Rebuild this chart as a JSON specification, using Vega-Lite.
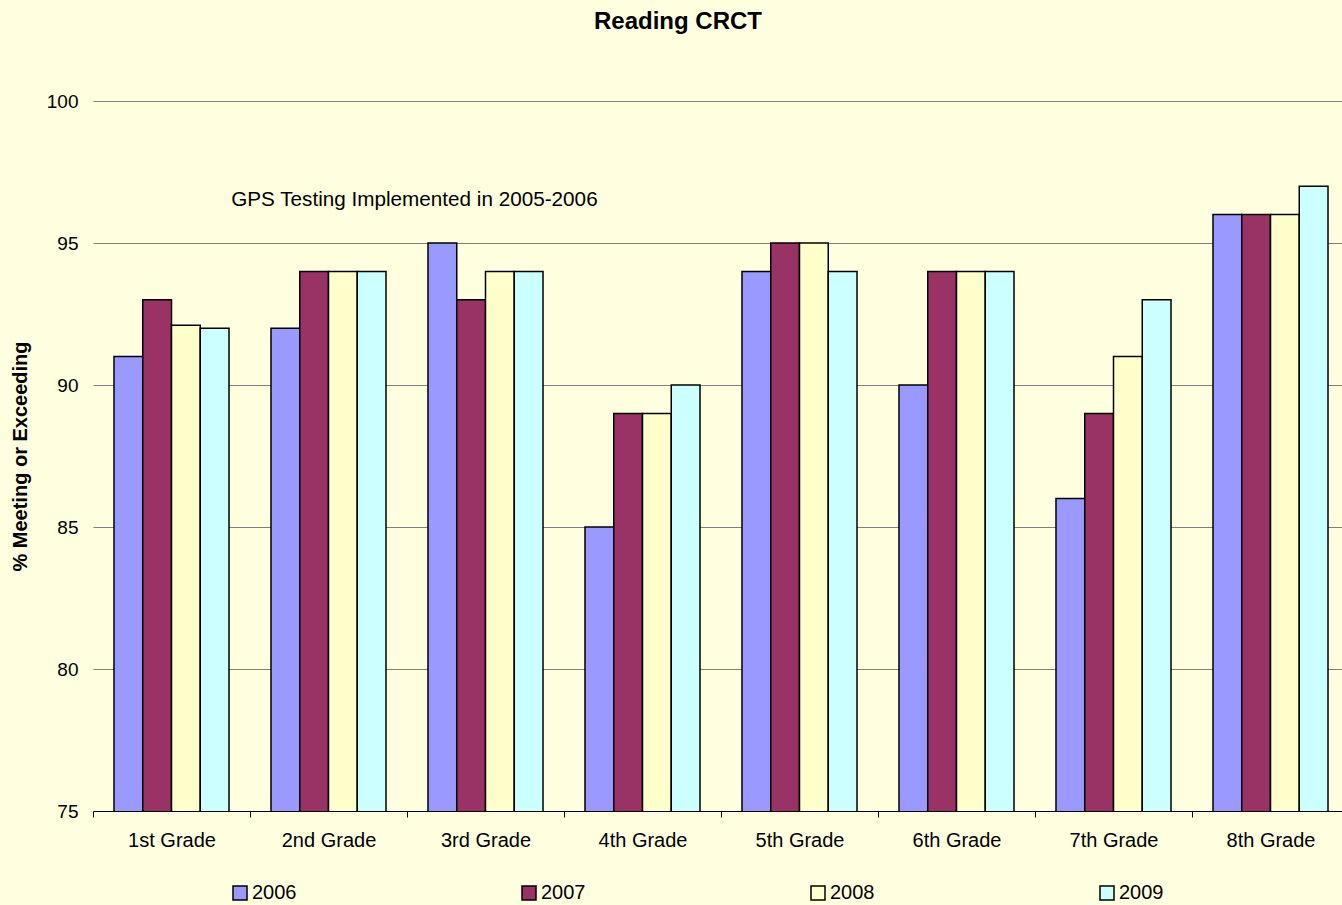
{
  "$schema": "https://vega.github.io/schema/vega-lite/v6.json",
  "autosize": "none",
  "width": 1256,
  "height": 710,
  "padding": {"left": 93, "top": 101, "right": 0, "bottom": 94},
  "background": "#FFFFE0",
  "title": {
    "text": "Reading CRCT",
    "fontSize": 24,
    "fontWeight": "bold",
    "font": "Liberation Sans",
    "color": "#000000",
    "anchor": "middle",
    "dx": -43,
    "offset": 58
  },
  "config": {
    "view": {"stroke": null},
    "font": "Liberation Sans"
  },
  "layer": [
    {
      "data": {
        "values": [
          {"grade": "1st Grade", "year": "2006", "value": 91},
          {"grade": "1st Grade", "year": "2007", "value": 93},
          {"grade": "1st Grade", "year": "2008", "value": 92.1},
          {"grade": "1st Grade", "year": "2009", "value": 92},
          {"grade": "2nd Grade", "year": "2006", "value": 92},
          {"grade": "2nd Grade", "year": "2007", "value": 94},
          {"grade": "2nd Grade", "year": "2008", "value": 94},
          {"grade": "2nd Grade", "year": "2009", "value": 94},
          {"grade": "3rd Grade", "year": "2006", "value": 95},
          {"grade": "3rd Grade", "year": "2007", "value": 93},
          {"grade": "3rd Grade", "year": "2008", "value": 94},
          {"grade": "3rd Grade", "year": "2009", "value": 94},
          {"grade": "4th Grade", "year": "2006", "value": 85},
          {"grade": "4th Grade", "year": "2007", "value": 89},
          {"grade": "4th Grade", "year": "2008", "value": 89},
          {"grade": "4th Grade", "year": "2009", "value": 90},
          {"grade": "5th Grade", "year": "2006", "value": 94},
          {"grade": "5th Grade", "year": "2007", "value": 95},
          {"grade": "5th Grade", "year": "2008", "value": 95},
          {"grade": "5th Grade", "year": "2009", "value": 94},
          {"grade": "6th Grade", "year": "2006", "value": 90},
          {"grade": "6th Grade", "year": "2007", "value": 94},
          {"grade": "6th Grade", "year": "2008", "value": 94},
          {"grade": "6th Grade", "year": "2009", "value": 94},
          {"grade": "7th Grade", "year": "2006", "value": 86},
          {"grade": "7th Grade", "year": "2007", "value": 89},
          {"grade": "7th Grade", "year": "2008", "value": 91},
          {"grade": "7th Grade", "year": "2009", "value": 93},
          {"grade": "8th Grade", "year": "2006", "value": 96},
          {"grade": "8th Grade", "year": "2007", "value": 96},
          {"grade": "8th Grade", "year": "2008", "value": 96},
          {"grade": "8th Grade", "year": "2009", "value": 97}
        ]
      },
      "mark": {"type": "bar", "stroke": "#000000", "strokeWidth": 1.5, "clip": true},
      "encoding": {
        "x": {
          "field": "grade",
          "type": "nominal",
          "sort": ["1st Grade", "2nd Grade", "3rd Grade", "4th Grade", "5th Grade", "6th Grade", "7th Grade", "8th Grade"],
          "scale": {"paddingInner": 0, "paddingOuter": 0},
          "axis": {
            "title": null,
            "labelAngle": 0,
            "labelFontSize": 20,
            "labelColor": "#000000",
            "labelPadding": 13,
            "tickBand": "extent",
            "tickSize": 6,
            "tickColor": "#000000",
            "domainColor": "#000000",
            "domainWidth": 1,
            "grid": false
          }
        },
        "xOffset": {
          "field": "year",
          "type": "nominal",
          "scale": {"paddingInner": 0, "paddingOuter": 0.73}
        },
        "y": {
          "field": "value",
          "type": "quantitative",
          "scale": {"domain": [75, 100], "nice": false, "zero": false},
          "axis": {
            "title": "% Meeting or Exceeding",
            "titleFontSize": 20,
            "titleFontWeight": "bold",
            "titleColor": "#000000",
            "titlePadding": 16,
            "values": [75, 80, 85, 90, 95, 100],
            "labelFontSize": 19,
            "labelColor": "#000000",
            "labelPadding": 15,
            "ticks": false,
            "domain": false,
            "grid": true,
            "gridColor": "#808080",
            "gridWidth": 1,
            "gridOpacity": 1
          }
        },
        "color": {
          "field": "year",
          "type": "nominal",
          "scale": {
            "domain": ["2006", "2007", "2008", "2009"],
            "range": ["#9999FF", "#993366", "#FFFFCC", "#CCFFFF"]
          },
          "legend": {
            "title": null,
            "orient": "none",
            "direction": "horizontal",
            "legendX": 137,
            "legendY": 782,
            "padding": 0,
            "columnPadding": 222,
            "symbolType": "square",
            "symbolSize": 196,
            "symbolStrokeColor": "#000000",
            "symbolStrokeWidth": 1.5,
            "symbolOpacity": 1,
            "labelFontSize": 20,
            "labelColor": "#000000",
            "labelOffset": 2
          }
        }
      }
    },
    {
      "data": {"values": [{"grade": "1st Grade", "value": 96.5, "label": "GPS Testing Implemented in 2005-2006"}]},
      "mark": {"type": "text", "align": "left", "baseline": "middle", "fontSize": 20.7, "color": "#000000"},
      "encoding": {
        "x": {"field": "grade", "type": "nominal", "bandPosition": 0.88},
        "y": {"field": "value", "type": "quantitative"},
        "text": {"field": "label"}
      }
    }
  ]
}
